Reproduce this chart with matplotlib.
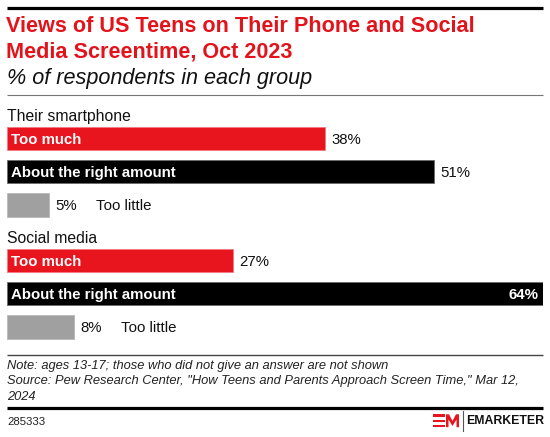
import matplotlib
matplotlib.use("Agg")
import matplotlib.pyplot as plt
from matplotlib.lines import Line2D
from matplotlib.patches import Polygon

# ---------------- data ----------------
title_lines = ["Views of US Teens on Their Phone and Social",
               "Media Screentime, Oct 2023"]
subtitle = "% of respondents in each group"
groups = ["Their smartphone", "Social media"]
categories = ["Too much", "About the right amount", "Too little"]
smartphone_values = [38, 51, 5]
social_values = [27, 64, 8]
note_lines = ["Note: ages 13-17; those who did not give an answer are not shown",
              "Source: Pew Research Center, \"How Teens and Parents Approach Screen Time,\" Mar 12,",
              "2024"]
chart_id = "285333"

# ---------------- style ----------------
RED = "#E8141E"
TITLE_RED = "#E3131B"
BLACK = "#000000"
GRAY = "#A0A0A0"
cat_colors = [RED, BLACK, GRAY]
edge_colors = ["#F07A80", "#6A6A6A", "#B8B8B8"]
FONT = "Liberation Sans"
plt.rcParams["font.family"] = [FONT, "DejaVu Sans"]

W, H = 550, 437
fig = plt.figure(figsize=(W / 100, H / 100), dpi=100)
fig.patch.set_facecolor("white")

def ftext(x, y, s, **kw):
    return fig.text(x / W, 1 - y / H, s, **kw)

def fline(x0, x1, y, lw, color):
    fig.add_artist(Line2D([x0 / W, x1 / W], [1 - y / H, 1 - y / H],
                          transform=fig.transFigure, lw=lw, color=color,
                          solid_capstyle="butt"))

# header
fline(7, 543, 7.8, 2.3, BLACK)
ftext(6, 26.5, title_lines[0], color=TITLE_RED, fontsize=15.6, fontweight="bold", va="center")
ftext(6, 52, title_lines[1], color=TITLE_RED, fontsize=15.6, fontweight="bold", va="center")
ftext(7, 78.5, subtitle, color="#111111", fontsize=15.6, style="italic", va="center")
fline(7, 543, 94.5, 0.8, "#777777")

# bars axes: x in percent, y in pixels
ax = fig.add_axes([7 / W, 0, 536 / W, 1])
ax.set_xlim(0, max(smartphone_values + social_values))
ax.set_ylim(H, 0)
ax.axis("off")

group_top = [115.5, 237.5]
row_gap = 33.2
first_offset = 23.0
bar_h = 23.5
all_values = [smartphone_values, social_values]
FS = 10.8
cap_shift = FS * 100 / 72 * 0.36   # pixels from visual centre to baseline

for g, (gname, vals) in enumerate(zip(groups, all_values)):
    ax.text(0, group_top[g] + 11.3 * 100 / 72 * 0.36, gname, fontsize=11.3,
            va="baseline", ha="left", color="#111111")
    for i, (cat, v) in enumerate(zip(categories, vals)):
        y = group_top[g] + first_offset + i * row_gap
        ax.barh(y, v, height=bar_h, color=cat_colors[i], edgecolor=edge_colors[i],
                linewidth=0.6)
        yb = y + cap_shift
        if i < 2:
            ax.annotate(cat, (0, yb), xytext=(3, 0), textcoords="offset points",
                        color="white", fontsize=FS, fontweight="bold",
                        va="baseline", ha="left")
        if v == ax.get_xlim()[1]:
            ax.annotate(f"{v}%", (v, yb), xytext=(-3.5, 0), textcoords="offset points",
                        color="white", fontsize=FS, fontweight="bold",
                        va="baseline", ha="right")
        else:
            ax.annotate(f"{v}%", (v, yb), xytext=(4.3, 0), textcoords="offset points",
                        color="#111111", fontsize=FS, va="baseline", ha="left")
        if i == 2:
            ax.annotate(cat, (v, yb), xytext=(34, 0), textcoords="offset points",
                        color="#111111", fontsize=FS, va="baseline", ha="left")

# footer
fline(7, 543, 354.5, 1.0, "#444444")
for k, line in enumerate(note_lines):
    ftext(7, 365.5 + k * 15.5, line, fontsize=9.3, style="italic", color="#222222", va="center")
fline(7, 543, 407.5, 2.3, BLACK)
ftext(7, 422, chart_id, fontsize=8.2, color="#222222", va="center")

# EM logo
def fpoly(pts, color):
    fig.add_artist(Polygon([(x / W, 1 - y / H) for x, y in pts], closed=True,
                           transform=fig.transFigure, facecolor=color, edgecolor="none"))

for ybar in (414.3, 419.5, 424.6):
    fpoly([(433, ybar), (445, ybar), (445, ybar + 2.6), (433, ybar + 2.6)], RED)
fpoly([(446, 427.2), (446, 414.3), (449, 414.3), (452.5, 421), (456, 414.3), (459, 414.3),
       (459, 427.2), (456.5, 427.2), (456.5, 419.5), (452.5, 426), (448.5, 419.5),
       (448.5, 427.2)], RED)
fig.add_artist(Line2D([463 / W, 463 / W], [1 - 411 / H, 1 - 431 / H],
                      transform=fig.transFigure, lw=0.8, color="#555555"))
ftext(544, 421, "EMARKETER", fontsize=8.8, fontweight="bold", color="#111111",
      va="center", ha="right")

fig.savefig("out.png", dpi=100, facecolor="white")
